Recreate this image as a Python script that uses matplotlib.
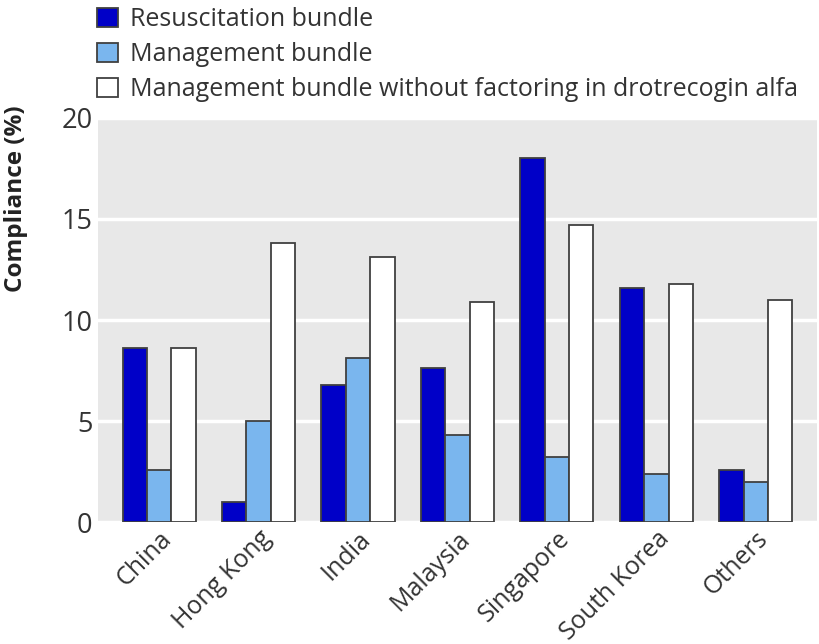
import numpy as np
import matplotlib
matplotlib.use("Agg")
import matplotlib.pyplot as plt

# Data
countries = ["China", "Hong Kong", "India", "Malaysia", "Singapore", "South Korea", "Others"]
resuscitation = [8.6, 1.0, 6.8, 7.6, 18.0, 11.6, 2.6]
management = [2.6, 5.0, 8.1, 4.3, 3.2, 2.4, 2.0]
management_no_dro = [8.6, 13.8, 13.1, 10.9, 14.7, 11.8, 11.0]
series_labels = [
    "Resuscitation bundle",
    "Management bundle",
    "Management bundle without factoring in drotrecogin alfa",
]
yticks = [0, 5, 10, 15, 20]

plt.rcParams["font.family"] = ["Open Sans", "DejaVu Sans"]

fig = plt.figure(figsize=(8.2, 6.44), dpi=100)
ax = fig.add_axes([0.1195, 0.1894, 0.8768, 0.6274])
ax.set_facecolor("#e8e8e8")

x = np.arange(len(countries))
w = 0.245
edge = "#404040"
b1 = ax.bar(x - w, resuscitation, w, color="#0000c8", edgecolor=edge, linewidth=1.3, zorder=3)
b2 = ax.bar(x, management, w, color="#7ab6ee", edgecolor=edge, linewidth=1.3, zorder=3)
b3 = ax.bar(x + w, management_no_dro, w, color="white", edgecolor=edge, linewidth=1.3, zorder=3)

ax.set_xlim(-0.615, len(countries) - 1 + 0.615)
ax.set_ylim(0, 20)
ax.set_yticks(yticks)
ax.yaxis.grid(True, color="white", linewidth=2.5, zorder=1)
ax.set_axisbelow(True)
for s in ax.spines.values():
    s.set_visible(False)
ax.tick_params(axis="both", length=0, colors="#333333")
ax.tick_params(axis="y", pad=4, labelsize=19.5)
ax.set_xticks(x)
ax.set_xticklabels(countries, rotation=45, ha="right", rotation_mode="anchor")
ax.tick_params(axis="x", pad=3, labelsize=18)

fig.text(0.019, 1 - 199 / 644, "Compliance (%)", rotation=90, fontsize=17.5,
         fontweight="bold", va="center", ha="center", color="#222222")

fig.legend([b1, b2, b3], series_labels, loc="upper left",
           bbox_to_anchor=(0.1, 1.012), frameon=False, fontsize=18,
           handlelength=0.85, handleheight=0.75, handletextpad=0.45,
           labelspacing=0.4, borderaxespad=0.2, labelcolor="#333333")

fig.savefig("out.png", dpi=100)
